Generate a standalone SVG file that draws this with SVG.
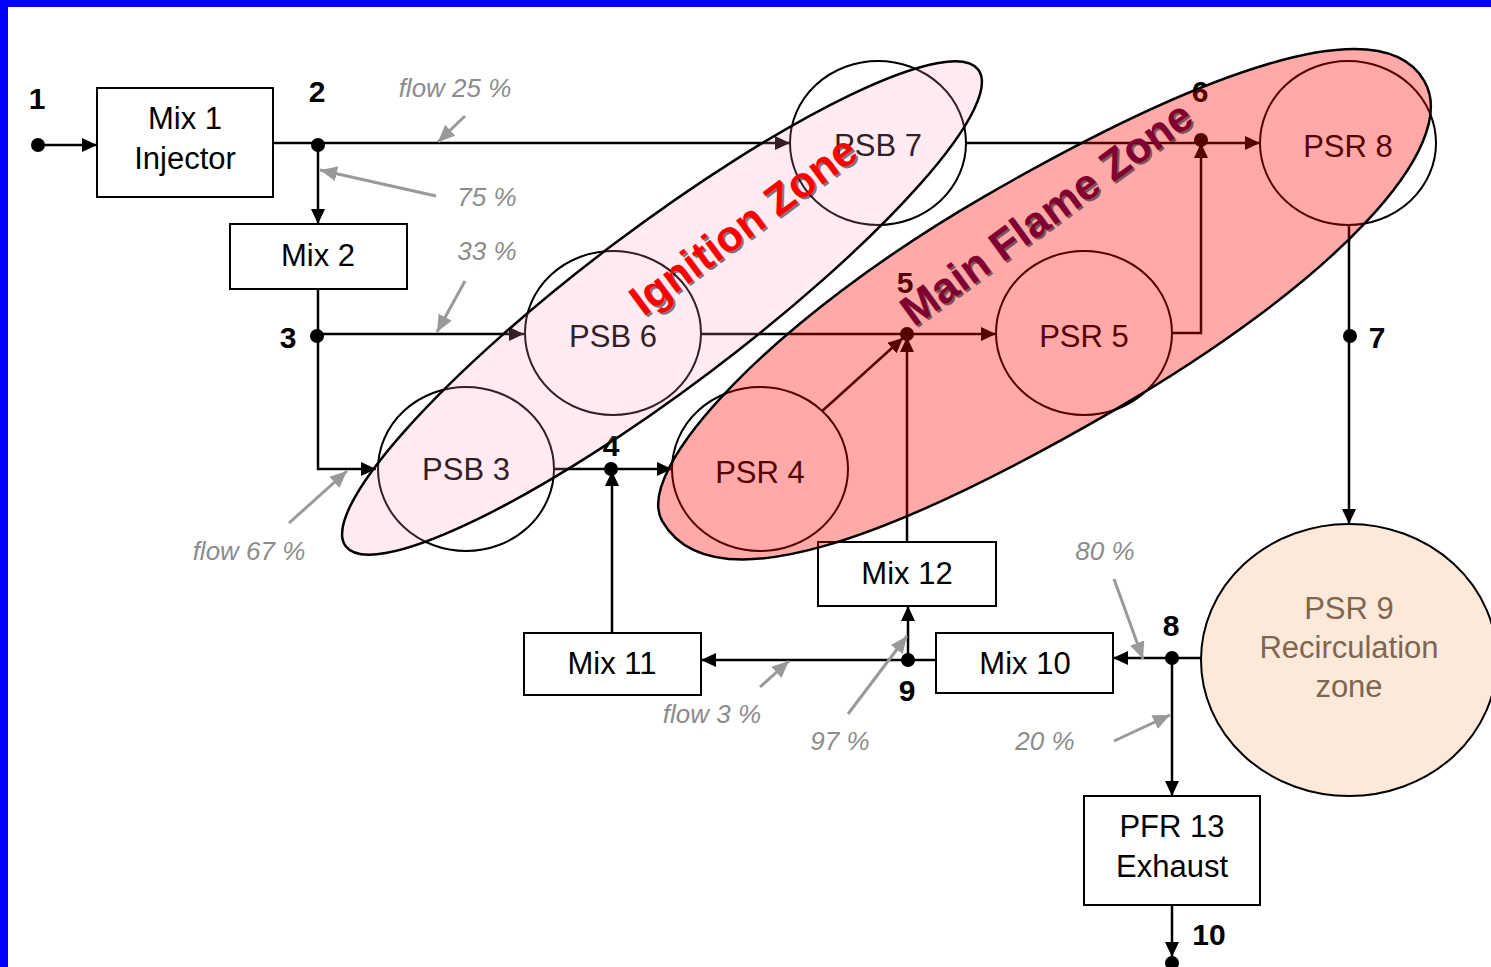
<svg xmlns="http://www.w3.org/2000/svg" width="1491" height="967" viewBox="0 0 1491 967">
<style>
.box{fill:#fff;stroke:#000;stroke-width:2}
.circ{fill:#fff;stroke:#000;stroke-width:2}
.t{font-family:"Liberation Sans",Arial,sans-serif;font-size:31px;fill:#000;text-anchor:middle}
.n{font-family:"Liberation Sans",Arial,sans-serif;font-size:30px;font-weight:bold;fill:#000;text-anchor:middle}
.g{font-family:"Liberation Sans",Arial,sans-serif;font-size:26px;font-style:italic;fill:#8c8c8c;text-anchor:middle}
.c{fill:none;stroke:#000;stroke-width:2.5}
.ga{fill:none;stroke:#999;stroke-width:3}
.dot{fill:#000}
.zone{font-family:"Liberation Sans",Arial,sans-serif;font-size:43px;font-weight:bold;text-anchor:middle}
</style>
<defs>
<marker id="ah" markerUnits="userSpaceOnUse" markerWidth="15" markerHeight="14" refX="15" refY="7" orient="auto"><path d="M0,0 L15,7 L0,14 z" fill="#000"/></marker>
<marker id="gh" markerUnits="userSpaceOnUse" markerWidth="17" markerHeight="15" refX="17" refY="7.5" orient="auto"><path d="M0,0 L17,7.5 L0,15 z" fill="#999"/></marker>
</defs>
<rect x="0" y="0" width="1491" height="967" fill="#fff"/>
<rect x="0" y="0" width="1491" height="7" fill="#0000ff"/>
<rect x="0" y="0" width="8" height="967" fill="#0000ff"/>

<g id="connectors">
<path class="c" d="M38,145 H97" marker-end="url(#ah)"/>
<path class="c" d="M273,143 H790" marker-end="url(#ah)"/>
<path class="c" d="M318,143 V224" marker-end="url(#ah)"/>
<path class="c" d="M318,289 V469 H376" marker-end="url(#ah)"/>
<path class="c" d="M317,334 H524" marker-end="url(#ah)"/>
<path class="c" d="M554,469 H672" marker-end="url(#ah)"/>
<path class="c" d="M612,633 V471" marker-end="url(#ah)"/>
<path class="c" d="M701,334 H996" marker-end="url(#ah)"/>
<path class="c" d="M820,413 L903,338" marker-end="url(#ah)"/>
<path class="c" d="M907,542 V337" marker-end="url(#ah)"/>
<path class="c" d="M1172,333 H1201 V143" marker-end="url(#ah)"/>
<path class="c" d="M966,143 H1260" marker-end="url(#ah)"/>
<path class="c" d="M1349,225 V524" marker-end="url(#ah)"/>
<path class="c" d="M1201,658 H1113" marker-end="url(#ah)"/>
<path class="c" d="M1172,658 V796" marker-end="url(#ah)"/>
<path class="c" d="M936,660 H701" marker-end="url(#ah)"/>
<path class="c" d="M908,660 V606" marker-end="url(#ah)"/>
<path class="c" d="M1172,905 V957" marker-end="url(#ah)"/>
<circle class="dot" cx="38" cy="145" r="7"/>
<circle class="dot" cx="318" cy="145" r="7"/>
<circle class="dot" cx="317" cy="336" r="7"/>
<circle class="dot" cx="611" cy="469" r="7"/>
<circle class="dot" cx="907" cy="334" r="7"/>
<circle class="dot" cx="1201" cy="140" r="7"/>
<circle class="dot" cx="1350" cy="336" r="7"/>
<circle class="dot" cx="1172" cy="658" r="7"/>
<circle class="dot" cx="908" cy="660" r="7"/>
<circle class="dot" cx="1172" cy="963" r="7"/>
<path class="ga" d="M465,116 L438,142" marker-end="url(#gh)"/>
<path class="ga" d="M436,196 L320,170" marker-end="url(#gh)"/>
<path class="ga" d="M465,281 L437,332" marker-end="url(#gh)"/>
<path class="ga" d="M289,523 L347,471" marker-end="url(#gh)"/>
<path class="ga" d="M1114,579 L1143,659" marker-end="url(#gh)"/>
<path class="ga" d="M1114,741 L1170,715" marker-end="url(#gh)"/>
<path class="ga" d="M760,687 L789,661" marker-end="url(#gh)"/>
<path class="ga" d="M848,714 L907,636" marker-end="url(#gh)"/>
</g>

<g id="labels">
<text class="n" x="37" y="109">1</text>
<text class="n" x="317" y="102">2</text>
<text class="n" x="288" y="348">3</text>
<text class="n" x="611" y="456">4</text>
<text class="n" x="905" y="293">5</text>
<text class="n" x="1200" y="102">6</text>
<text class="n" x="1377" y="348">7</text>
<text class="n" x="1171" y="636">8</text>
<text class="n" x="907" y="701">9</text>
<text class="n" x="1209" y="945">10</text>
<text class="g" x="455" y="97">flow 25 %</text>
<text class="g" x="487" y="206">75 %</text>
<text class="g" x="487" y="260">33 %</text>
<text class="g" x="249" y="560">flow 67 %</text>
<text class="g" x="1105" y="560">80 %</text>
<text class="g" x="1045" y="750">20 %</text>
<text class="g" x="712" y="723">flow 3 %</text>
<text class="g" x="840" y="750">97 %</text>
</g>

<g id="mix1"><rect class="box" x="97" y="88" width="176" height="109"/><text class="t" x="185" y="129">Mix 1</text><text class="t" x="185" y="169">Injector</text></g>
<g id="mix2"><rect class="box" x="230" y="224" width="177" height="65"/><text class="t" x="318" y="266">Mix 2</text></g>
<g id="mix11"><rect class="box" x="524" y="633" width="177" height="62"/><text class="t" x="612" y="674">Mix 11</text></g>
<g id="mix12"><rect class="box" x="818" y="542" width="178" height="64"/><text class="t" x="907" y="584">Mix 12</text></g>
<g id="mix10"><rect class="box" x="936" y="633" width="177" height="60"/><text class="t" x="1025" y="674">Mix 10</text></g>
<g id="pfr13"><rect class="box" x="1084" y="796" width="176" height="109"/><text class="t" x="1172" y="837">PFR 13</text><text class="t" x="1172" y="877">Exhaust</text></g>

<g id="psb3"><ellipse class="circ" cx="466" cy="469" rx="88" ry="82"/><text class="t" x="466" y="480">PSB 3</text></g>
<g id="psb6"><ellipse class="circ" cx="613" cy="333" rx="88" ry="82"/><text class="t" x="613" y="347">PSB 6</text></g>
<g id="psb7"><ellipse class="circ" cx="878" cy="143" rx="88" ry="82"/><text class="t" x="878" y="156">PSB 7</text></g>
<g id="psr4"><ellipse class="circ" cx="760" cy="469" rx="88" ry="82"/><text class="t" x="760" y="483">PSR 4</text></g>
<g id="psr5"><ellipse class="circ" cx="1084" cy="333" rx="88" ry="82"/><text class="t" x="1084" y="347">PSR 5</text></g>
<g id="psr8"><ellipse class="circ" cx="1348" cy="143" rx="88" ry="82"/><text class="t" x="1348" y="157">PSR 8</text></g>
<g id="psr9"><ellipse cx="1349" cy="660" rx="148" ry="136" fill="#fde9d9" stroke="#000" stroke-width="2"/>
<text class="t" x="1349" y="619" style="fill:#7f6650">PSR 9</text><text class="t" x="1349" y="658" style="fill:#7f6650">Recirculation</text><text class="t" x="1349" y="697" style="fill:#7f6650">zone</text></g>

<g id="ignition-zone">
<ellipse cx="662" cy="308" rx="396" ry="80" transform="rotate(-37 662 308)" fill="#ff99bb" fill-opacity="0.2" stroke="#000" stroke-width="2.5"/>
<text class="zone" x="754" y="239" transform="rotate(-36.5 754 239)" fill="#000" fill-opacity="0.5">Ignition Zone</text>
<text class="zone" x="752" y="237" transform="rotate(-36.5 752 237)" fill="#ff0000">Ignition Zone</text>
</g>
<g id="main-flame-zone">
<path d="M438,0 C438,-88 244,-120 0,-120 C-244,-120 -442,-60 -442,0 C-442,100 -250,130 0,130 C260,130 438,75 438,0 Z" transform="translate(1045 300) rotate(-30)" fill="#ff0000" fill-opacity="0.337" stroke="#000" stroke-width="2.5"/>
<text class="zone" x="1057" y="227" transform="rotate(-36 1057 227)" fill="#000" fill-opacity="0.5">Main Flame Zone</text>
<text class="zone" x="1055" y="225" transform="rotate(-36 1055 225)" fill="#800032">Main Flame Zone</text>
</g>
</svg>
